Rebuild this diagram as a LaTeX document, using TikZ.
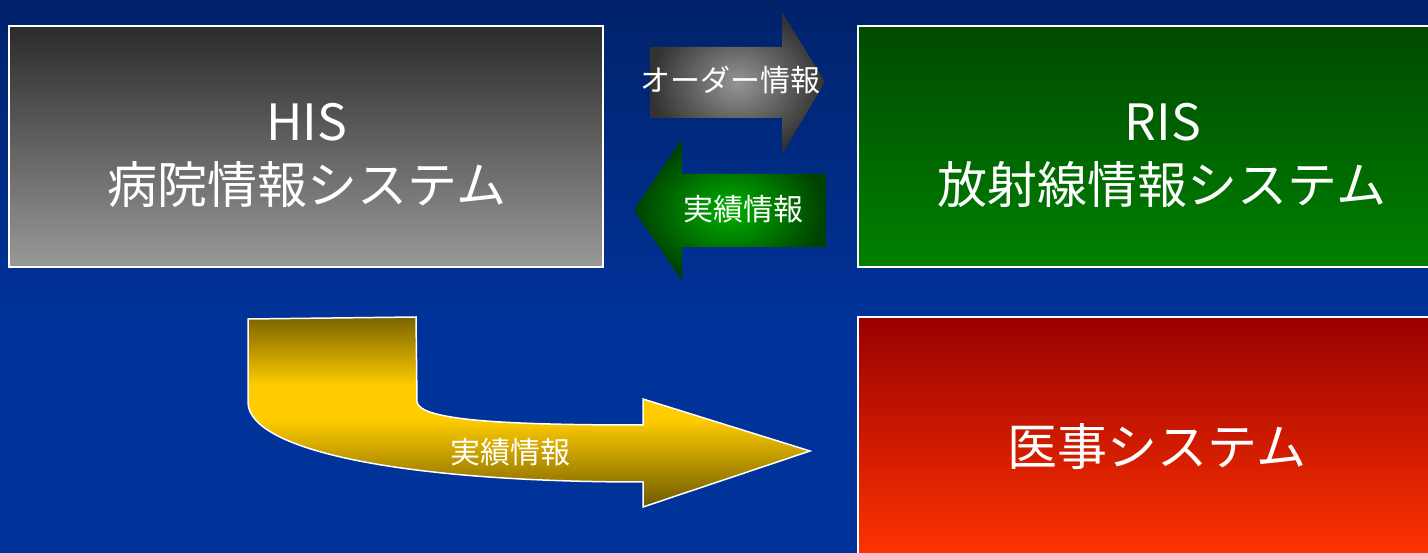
\documentclass[tikz,border=0pt]{standalone}
\usepackage{fontspec}
\setmainfont{Noto Sans CJK JP}
\definecolor{bgtop}{HTML}{00226A}
\definecolor{bgbot}{HTML}{003399}
\definecolor{graytop}{HTML}{2B2B2B}
\definecolor{graybot}{HTML}{999999}
\definecolor{greentop}{HTML}{004A00}
\definecolor{greenbot}{HTML}{008000}
\definecolor{redtop}{HTML}{990000}
\definecolor{redbot}{HTML}{FF3300}
\definecolor{golddark}{HTML}{6E5800}
\definecolor{golddarktop}{HTML}{7A6300}
\definecolor{goldmid}{HTML}{FFCC00}
\definecolor{garrowout}{HTML}{333333}
\definecolor{garrowin}{HTML}{959595}
\definecolor{grarrowout}{HTML}{004000}
\definecolor{grarrowin}{HTML}{00B000}
\pgfdeclareverticalshading{goldshade}{100bp}{color(0bp)=(golddark); color(25bp)=(golddark); color(48bp)=(goldmid); color(57bp)=(goldmid); color(75bp)=(golddarktop); color(100bp)=(golddarktop)}
\tikzset{
  sysbox/.style={draw=white, line width=1.5pt, rectangle, inner sep=0pt},
  bigtext/.style={text=white, inner sep=0pt, font=\fontsize{50}{60}\selectfont},
  smalltext/.style={text=white, inner sep=0pt, font=\fontsize{30}{36}\selectfont},
}
\begin{document}
\begin{tikzpicture}[x=1pt,y=-1pt]
\useasboundingbox (0,0) rectangle (1428,553);
\clip (0,0) rectangle (1428,553);
\shade[top color=bgtop, bottom color=bgbot] (0,0) rectangle (1428,320);
\fill[bgbot] (0,319) rectangle (1428,553);

% boxes
\node[sysbox, top color=graytop, bottom color=graybot, minimum width=594pt, minimum height=241pt] (his) at (306,146.5) {};
\node[sysbox, top color=greentop, bottom color=greenbot, minimum width=582pt, minimum height=241pt] (ris) at (1149,146.5) {};
\node[sysbox, top color=redtop, bottom color=redbot, minimum width=582pt, minimum height=240pt] (iji) at (1149,437) {};

\node[bigtext] (hisA) at (307,122) {HIS};
\node[bigtext] (hisB) at (307,185) {病院情報システム};
\node[bigtext] (risA) at (1163,122) {RIS};
\node[bigtext] (risB) at (1162,185) {放射線情報システム};
\node[bigtext] (ijiA) at (1157,447) {医事システム};

% order arrow (gray, to the right)
\shade[inner color=garrowin, outer color=garrowout]
  (650,47) -- (782,47) -- (782,12) -- (825,82) -- (782,154) -- (782,118) -- (650,118) -- cycle;
\node[smalltext] (order) at (730,80) {オーダー情報};

% result arrow (green, to the left)
\shade[inner color=grarrowin, outer color=grarrowout]
  (826,174) -- (682,174) -- (682,139) -- (634,210) -- (682,281) -- (682,247) -- (826,247) -- cycle;
\node[smalltext] (result1) at (743,209) {実績情報};

% curved arrow (gold)
\path[draw=white, line width=1.5pt, shading=goldshade]
  (248,319) -- (416,317) -- (417,402)
  .. controls (420,420) and (500,425) .. (643,425)
  -- (643,399) -- (810,451) -- (643,507) -- (643,482)
  .. controls (400,482) and (250,450) .. (248,403) -- cycle;
\node[smalltext] (result2) at (510,452) {実績情報};
\end{tikzpicture}
\end{document}
